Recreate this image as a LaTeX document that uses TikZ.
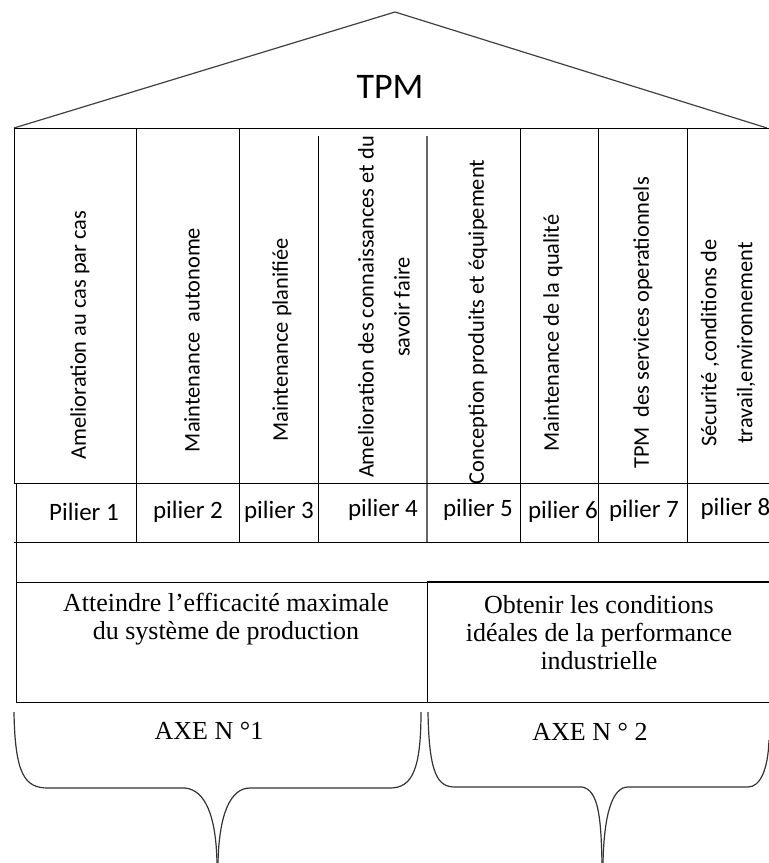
\documentclass[tikz,border=0pt]{standalone}
\usepackage{fontspec}
\setmainfont{Liberation Serif}
\newfontfamily\calibfont{Carlito}

\tikzset{
  pillar/.style={rotate=90, font=\calibfont\fontsize{22.4}{36}\selectfont, align=center, inner sep=0pt},
  pilname/.style={font=\calibfont\fontsize{25}{30}\selectfont, inner sep=0pt},
  axetext/.style={font=\fontsize{26}{28}\selectfont, align=center, inner sep=0pt},
  brace/.style={black!80, line width=1.2pt},
}

\begin{document}
\begin{tikzpicture}[x=1pt, y=-1pt, line width=1pt]
  % Drawing parameters
  \pgfmathsetmacro{\lft}{14}
  \pgfmathsetmacro{\rgt}{769}
  \pgfmathsetmacro{\topy}{128}
  \pgfmathsetmacro{\pily}{483}
  \pgfmathsetmacro{\pilb}{542}
  \pgfmathsetmacro{\boxt}{582}
  \pgfmathsetmacro{\boxb}{702}
  \pgfmathsetmacro{\midx}{427}

  \useasboundingbox (0,0) rectangle (769,863);

  % roof
  \draw[black!75, line width=1.2pt] (\lft,\topy) -- (395,12) -- (767,\topy);
  \node[font=\calibfont\fontsize{36}{40}\selectfont] (tpm) at (390,87) {TPM};

  % columns
  \draw (\lft,\topy) -- (\rgt,\topy);
  \draw (\lft,\topy) -- (\lft,\pily);
  \foreach \x in {136,239,520,598,687}
    \draw (\x,\topy) -- (\x,\pilb);
  \draw (318,136) -- (318,\pilb);
  \draw[black!60, line width=1.3pt] (\midx,136) -- (\midx,\pilb);
  \draw (\lft,\pily) -- (\rgt,\pily);
  \draw (\lft,\pilb) -- (\rgt,\pilb);

  \node[pillar] (c1) at (80,335) {Amelioration au cas par cas};
  \node[pillar] (c2) at (192,340) {Maintenance\ \ autonome};
  \node[pillar] (c3) at (282,340) {Maintenance planifiée};
  \node[pillar] (c4) at (384,307) {Amelioration des connaissances et du\\savoir faire};
  \node[pillar] (c5) at (478,322) {Conception produits et équipement};
  \node[pillar] (c6) at (553,333) {Maintenance de la qualité};
  \node[pillar] (c7) at (643,323) {TPM\ \ des services operationnels};
  \node[pillar] (c8) at (728,343) {Sécurité ,conditions de\\travail,environnement};

  \node[pilname] (n1) at (84,512) {Pilier 1};
  \node[pilname] (n2) at (188,512) {pilier 2};
  \node[pilname] (n3) at (279,512) {pilier 3};
  \node[pilname] (n4) at (383,510) {pilier 4};
  \node[pilname] (n5) at (478,510) {pilier 5};
  \node[pilname] (n6) at (563,512) {pilier 6};
  \node[pilname] (n7) at (644,511) {pilier 7};
  \node[pilname, anchor=west] (n8) at (700,509) {pilier 8};

  % base
  \draw (16,\pily) -- (16,\boxb) -- (\rgt,\boxb);
  \draw (16,\boxt) -- (\rgt,\boxt);
  \draw[line width=1.6pt] (\midx,\boxt) -- (\rgt,\boxt);
  \draw (\midx,\boxt) -- (\midx,\boxb);

  \node[axetext] (goal1) at (226,619) {Atteindre l’efficacité maximale\\du système de production};
  \node[axetext] (goal2) at (599,633) {Obtenir les conditions\\idéales de la performance\\industrielle};

  % braces
  \draw[brace] (14,712) .. controls (15,775) and (25,788) .. (48,788) -- (185,788)
    .. controls (205,790) and (216,815) .. (217,863);
  \draw[brace] (218,863) .. controls (219,815) and (230,788) .. (250,788) -- (390,788)
    .. controls (412,788) and (421,770) .. (421,712);
  \draw[brace] (428,712) .. controls (429,775) and (438,787) .. (455,787) -- (582,787)
    .. controls (598,790) and (601,815) .. (602,863);
  \draw[brace] (603,863) .. controls (604,815) and (612,787) .. (628,787) -- (748,787)
    .. controls (760,787) and (768,770) .. (769,740);

  \node[axetext] (axe1) at (209,731) {AXE N °1};
  \node[axetext] (axe2) at (590,732) {AXE N ° 2};
\end{tikzpicture}
\end{document}
